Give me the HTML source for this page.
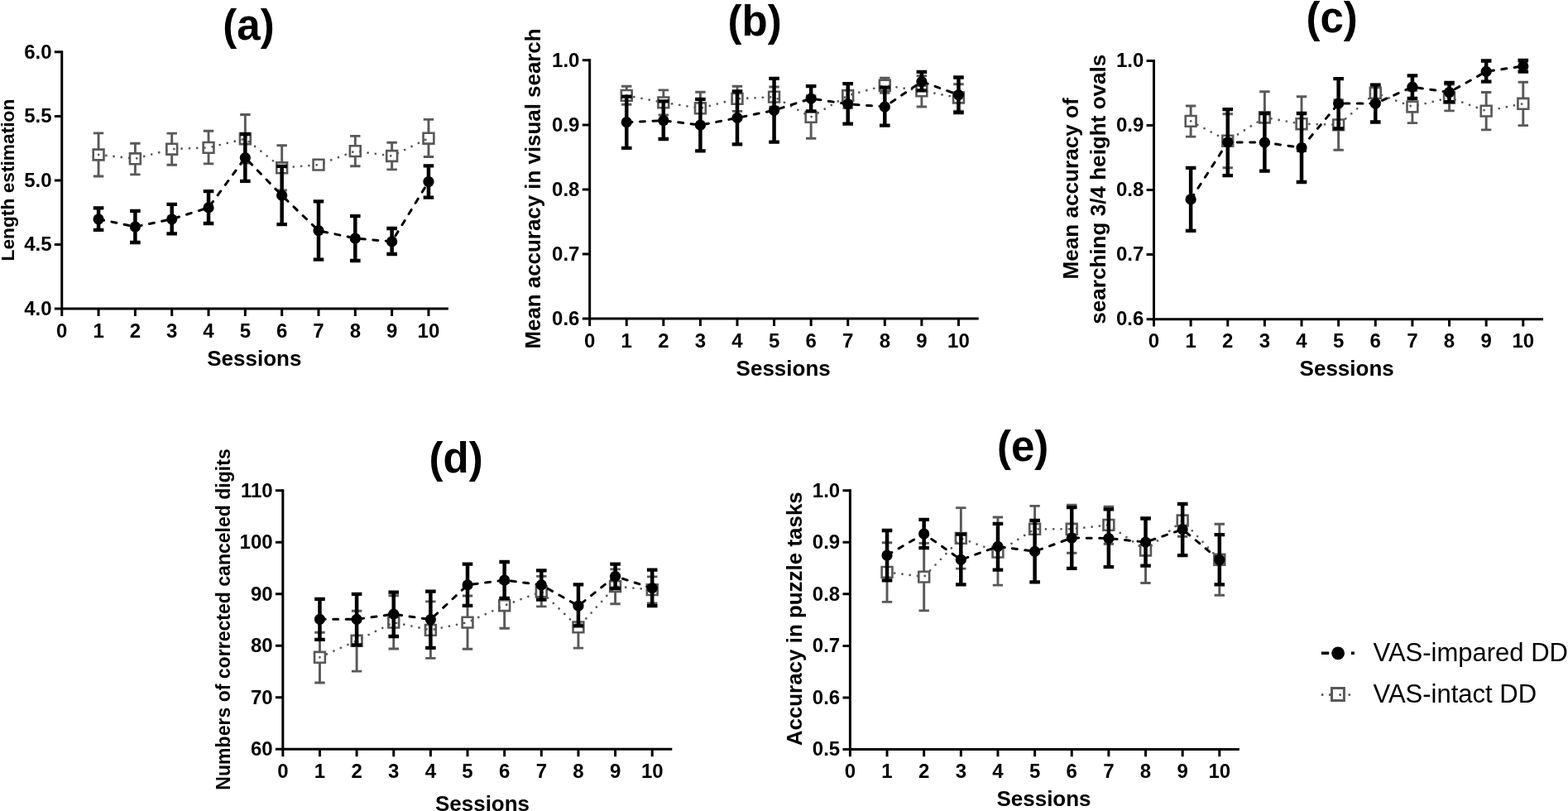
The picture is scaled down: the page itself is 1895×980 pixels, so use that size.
<!DOCTYPE html>
<html><head><meta charset="utf-8"><title>Figure</title>
<style>
html,body{margin:0;padding:0;background:#fff;}
body{width:1895px;height:980px;overflow:hidden;}
svg{display:block;filter:blur(0.35px);}
text{font-family:'Liberation Sans', sans-serif;fill:#000;}
.tk{font-size:24px;font-weight:bold;}
.ti{font-size:51px;font-weight:bold;}
.xl{font-size:26px;font-weight:bold;}
.yl{}
.lg{font-size:31px;font-weight:normal;}
</style></head>
<body>
<svg width="1895" height="980" viewBox="0 0 1895 980">
<rect width="1895" height="980" fill="#fff"/>
<g>
<path d="M74.75 62.8V373.12H540.4" fill="none" stroke="#000" stroke-width="3" stroke-linejoin="miter" stroke-linecap="square"/>
<path d="M65.85 373.12H74.75M65.85 295.54H74.75M65.85 217.96H74.75M65.85 140.38H74.75M65.85 62.8H74.75M74.75 373.12V382.02M119.07 373.12V382.02M163.39 373.12V382.02M207.71 373.12V382.02M252.03 373.12V382.02M296.35 373.12V382.02M340.67 373.12V382.02M384.99 373.12V382.02M429.31 373.12V382.02M473.63 373.12V382.02M517.95 373.12V382.02" stroke="#000" stroke-width="3" fill="none"/>
<text class="tk" x="62.55" y="380.92" text-anchor="end">4.0</text>
<text class="tk" x="62.55" y="303.34" text-anchor="end">4.5</text>
<text class="tk" x="62.55" y="225.76" text-anchor="end">5.0</text>
<text class="tk" x="62.55" y="148.18" text-anchor="end">5.5</text>
<text class="tk" x="62.55" y="70.6" text-anchor="end">6.0</text>
<text class="tk" x="74.75" y="407.72" text-anchor="middle">0</text>
<text class="tk" x="119.07" y="407.72" text-anchor="middle">1</text>
<text class="tk" x="163.39" y="407.72" text-anchor="middle">2</text>
<text class="tk" x="207.71" y="407.72" text-anchor="middle">3</text>
<text class="tk" x="252.03" y="407.72" text-anchor="middle">4</text>
<text class="tk" x="296.35" y="407.72" text-anchor="middle">5</text>
<text class="tk" x="340.67" y="407.72" text-anchor="middle">6</text>
<text class="tk" x="384.99" y="407.72" text-anchor="middle">7</text>
<text class="tk" x="429.31" y="407.72" text-anchor="middle">8</text>
<text class="tk" x="473.63" y="407.72" text-anchor="middle">9</text>
<text class="tk" x="517.95" y="407.72" text-anchor="middle">10</text>
<text class="ti" x="300.5" y="47.9" text-anchor="middle">(a)</text>
<text class="xl" x="307.3" y="441.8" text-anchor="middle">Sessions</text>
<text class="yl" transform="translate(16.6 217.55) rotate(-90)" text-anchor="middle" font-size="22.75" font-weight="bold">Length estimation</text>
<path d="M119.07 187L163.39 191.8L207.71 180.2L252.03 178.4L296.35 167.7L340.67 202.8L384.99 199.1L429.31 182.6L473.63 188.5L517.95 167.2" stroke="#585858" stroke-width="2.8" stroke-dasharray="0 9.3" stroke-linecap="round" stroke-linejoin="round" fill="none"/>
<path d="M119.07 180V160.9M112.87 160.9H125.27M119.07 194V213M112.87 213H125.27M163.39 184.8V173.2M157.19 173.2H169.59M163.39 198.8V210.9M157.19 210.9H169.59M207.71 173.2V161.1M201.51 161.1H213.91M207.71 187.2V199.2M201.51 199.2H213.91M252.03 171.4V158.2M245.83 158.2H258.23M252.03 185.4V197.9M245.83 197.9H258.23M296.35 160.7V138.5M290.15 138.5H302.55M296.35 174.7V197M290.15 197H302.55M340.67 195.8V175.7M334.47 175.7H346.87M340.67 209.8V229.9M334.47 229.9H346.87M429.31 175.6V164.4M423.11 164.4H435.51M429.31 189.6V200.8M423.11 200.8H435.51M473.63 181.5V172.3M467.43 172.3H479.83M473.63 195.5V204.9M467.43 204.9H479.83M517.95 160.2V144.4M511.75 144.4H524.15M517.95 174.2V189.5M511.75 189.5H524.15" stroke="#585858" stroke-width="2.9" fill="none"/>
<path d="M112.67 180.6h12.8v12.8h-12.8zM156.99 185.4h12.8v12.8h-12.8zM201.31 173.8h12.8v12.8h-12.8zM245.63 172h12.8v12.8h-12.8zM289.95 161.3h12.8v12.8h-12.8zM334.27 196.4h12.8v12.8h-12.8zM378.59 192.7h12.8v12.8h-12.8zM422.91 176.2h12.8v12.8h-12.8zM467.23 182.1h12.8v12.8h-12.8zM511.55 160.8h12.8v12.8h-12.8z" stroke="#585858" stroke-width="2.6" fill="none"/>
<path d="M119.07 264.8L163.39 274L207.71 264.8L252.03 250.9L296.35 190.6L340.67 236.2L384.99 278.7L429.31 288L473.63 291.9L517.95 219.5" stroke="#000" stroke-width="3" stroke-dasharray="6.00 9.50" stroke-dashoffset="14.79" stroke-linecap="round" stroke-linejoin="round" fill="none"/>
<path d="M119.07 251.3V277.8M163.39 254.9V293M207.71 246.8V282.3M252.03 231.1V270M296.35 162V218.8M340.67 200.9V271.2M384.99 243.4V313.7M429.31 261.2V315M473.63 276V307M517.95 200.4V238.6" stroke="#000" stroke-width="4.5" fill="none"/>
<path d="M112.77 251.3H125.37M112.77 277.8H125.37M157.09 254.9H169.69M157.09 293H169.69M201.41 246.8H214.01M201.41 282.3H214.01M245.73 231.1H258.33M245.73 270H258.33M290.05 162H302.65M290.05 218.8H302.65M334.37 200.9H346.97M334.37 271.2H346.97M378.69 243.4H391.29M378.69 313.7H391.29M423.01 261.2H435.61M423.01 315H435.61M467.33 276H479.93M467.33 307H479.93M511.65 200.4H524.25M511.65 238.6H524.25" stroke="#000" stroke-width="4.3" fill="none"/>
<circle cx="119.07" cy="264.8" r="6.6"/>
<circle cx="163.39" cy="274" r="6.6"/>
<circle cx="207.71" cy="264.8" r="6.6"/>
<circle cx="252.03" cy="250.9" r="6.6"/>
<circle cx="296.35" cy="190.6" r="6.6"/>
<circle cx="340.67" cy="236.2" r="6.6"/>
<circle cx="384.99" cy="278.7" r="6.6"/>
<circle cx="429.31" cy="288" r="6.6"/>
<circle cx="473.63" cy="291.9" r="6.6"/>
<circle cx="517.95" cy="219.5" r="6.6"/>
</g>
<g>
<path d="M712.67 72.81V385.12H1181.2" fill="none" stroke="#000" stroke-width="3" stroke-linejoin="miter" stroke-linecap="square"/>
<path d="M703.77 385.12H712.67M703.77 307.04H712.67M703.77 228.97H712.67M703.77 150.89H712.67M703.77 72.81H712.67M712.67 385.12V394.02M757.25 385.12V394.02M801.83 385.12V394.02M846.41 385.12V394.02M890.99 385.12V394.02M935.57 385.12V394.02M980.15 385.12V394.02M1024.73 385.12V394.02M1069.31 385.12V394.02M1113.89 385.12V394.02M1158.47 385.12V394.02" stroke="#000" stroke-width="3" fill="none"/>
<text class="tk" x="700.47" y="392.92" text-anchor="end">0.6</text>
<text class="tk" x="700.47" y="314.84" text-anchor="end">0.7</text>
<text class="tk" x="700.47" y="236.77" text-anchor="end">0.8</text>
<text class="tk" x="700.47" y="158.69" text-anchor="end">0.9</text>
<text class="tk" x="700.47" y="80.61" text-anchor="end">1.0</text>
<text class="tk" x="712.67" y="419.72" text-anchor="middle">0</text>
<text class="tk" x="757.25" y="419.72" text-anchor="middle">1</text>
<text class="tk" x="801.83" y="419.72" text-anchor="middle">2</text>
<text class="tk" x="846.41" y="419.72" text-anchor="middle">3</text>
<text class="tk" x="890.99" y="419.72" text-anchor="middle">4</text>
<text class="tk" x="935.57" y="419.72" text-anchor="middle">5</text>
<text class="tk" x="980.15" y="419.72" text-anchor="middle">6</text>
<text class="tk" x="1024.73" y="419.72" text-anchor="middle">7</text>
<text class="tk" x="1069.31" y="419.72" text-anchor="middle">8</text>
<text class="tk" x="1113.89" y="419.72" text-anchor="middle">9</text>
<text class="tk" x="1158.47" y="419.72" text-anchor="middle">10</text>
<text class="ti" x="912.1" y="43.4" text-anchor="middle">(b)</text>
<text class="xl" x="946.7" y="454" text-anchor="middle">Sessions</text>
<text class="yl" transform="translate(653.1 228) rotate(-90)" text-anchor="middle" font-size="25.9" font-weight="bold">Mean accuracy in visual search</text>
<path d="M757.25 115.4L801.83 123.9L846.41 130.8L890.99 119.4L935.57 117.1L980.15 141.4L1024.73 115.5L1069.31 103.2L1113.89 109.9L1158.47 118" stroke="#585858" stroke-width="2.8" stroke-dasharray="0 9.3" stroke-linecap="round" stroke-linejoin="round" fill="none"/>
<path d="M757.25 108.4V104.3M751.05 104.3H763.45M757.25 122.4V126.2M751.05 126.2H763.45M801.83 116.9V108.9M795.63 108.9H808.03M801.83 130.9V139M795.63 139H808.03M846.41 123.8V111.2M840.21 111.2H852.61M846.41 137.8V150.4M840.21 150.4H852.61M890.99 112.4V104.2M884.79 104.2H897.19M890.99 126.4V134.4M884.79 134.4H897.19M935.57 110.1V105M929.37 105H941.77M935.57 124.1V129.2M929.37 129.2H941.77M980.15 134.4V115.6M973.95 115.6H986.35M980.15 148.4V167.2M973.95 167.2H986.35M1024.73 108.5V100.5M1018.53 100.5H1030.93M1024.73 122.5V130.5M1018.53 130.5H1030.93M1069.31 96.2V94.2M1063.11 94.2H1075.51M1069.31 110.2V112.3M1063.11 112.3H1075.51M1113.89 102.9V91.6M1107.69 91.6H1120.09M1113.89 116.9V129M1107.69 129H1120.09M1158.47 111V101.8M1152.27 101.8H1164.67M1158.47 125V134.2M1152.27 134.2H1164.67" stroke="#585858" stroke-width="2.9" fill="none"/>
<path d="M750.85 109h12.8v12.8h-12.8zM795.43 117.5h12.8v12.8h-12.8zM840.01 124.4h12.8v12.8h-12.8zM884.59 113h12.8v12.8h-12.8zM929.17 110.7h12.8v12.8h-12.8zM973.75 135h12.8v12.8h-12.8zM1018.33 109.1h12.8v12.8h-12.8zM1062.91 96.8h12.8v12.8h-12.8zM1107.49 103.5h12.8v12.8h-12.8zM1152.07 111.6h12.8v12.8h-12.8z" stroke="#585858" stroke-width="2.6" fill="none"/>
<path d="M757.25 147.7L801.83 145.6L846.41 151.2L890.99 142.4L935.57 133.3L980.15 119.1L1024.73 125.7L1069.31 129L1113.89 98.6L1158.47 114.6" stroke="#000" stroke-width="3" stroke-dasharray="6.00 9.50" stroke-dashoffset="14.79" stroke-linecap="round" stroke-linejoin="round" fill="none"/>
<path d="M757.25 116.7V178.8M801.83 122.4V168M846.41 119.9V182.3M890.99 110.3V174.4M935.57 94.8V171.6M980.15 104.2V134.4M1024.73 101.1V149.6M1069.31 105.7V151.6M1113.89 86.8V109.3M1158.47 93.5V136.1" stroke="#000" stroke-width="4.5" fill="none"/>
<path d="M750.95 116.7H763.55M750.95 178.8H763.55M795.53 122.4H808.13M795.53 168H808.13M840.11 119.9H852.71M840.11 182.3H852.71M884.69 110.3H897.29M884.69 174.4H897.29M929.27 94.8H941.87M929.27 171.6H941.87M973.85 104.2H986.45M973.85 134.4H986.45M1018.43 101.1H1031.03M1018.43 149.6H1031.03M1063.01 105.7H1075.61M1063.01 151.6H1075.61M1107.59 86.8H1120.19M1107.59 109.3H1120.19M1152.17 93.5H1164.77M1152.17 136.1H1164.77" stroke="#000" stroke-width="4.3" fill="none"/>
<circle cx="757.25" cy="147.7" r="6.6"/>
<circle cx="801.83" cy="145.6" r="6.6"/>
<circle cx="846.41" cy="151.2" r="6.6"/>
<circle cx="890.99" cy="142.4" r="6.6"/>
<circle cx="935.57" cy="133.3" r="6.6"/>
<circle cx="980.15" cy="119.1" r="6.6"/>
<circle cx="1024.73" cy="125.7" r="6.6"/>
<circle cx="1069.31" cy="129" r="6.6"/>
<circle cx="1113.89" cy="98.6" r="6.6"/>
<circle cx="1158.47" cy="114.6" r="6.6"/>
</g>
<g>
<path d="M1394.5 73.42V385.66H1863.5" fill="none" stroke="#000" stroke-width="3" stroke-linejoin="miter" stroke-linecap="square"/>
<path d="M1385.6 385.66H1394.5M1385.6 307.6H1394.5M1385.6 229.54H1394.5M1385.6 151.48H1394.5M1385.6 73.42H1394.5M1394.5 385.66V394.56M1439.13 385.66V394.56M1483.76 385.66V394.56M1528.39 385.66V394.56M1573.02 385.66V394.56M1617.65 385.66V394.56M1662.28 385.66V394.56M1706.91 385.66V394.56M1751.54 385.66V394.56M1796.17 385.66V394.56M1840.8 385.66V394.56" stroke="#000" stroke-width="3" fill="none"/>
<text class="tk" x="1382.3" y="393.46" text-anchor="end">0.6</text>
<text class="tk" x="1382.3" y="315.4" text-anchor="end">0.7</text>
<text class="tk" x="1382.3" y="237.34" text-anchor="end">0.8</text>
<text class="tk" x="1382.3" y="159.28" text-anchor="end">0.9</text>
<text class="tk" x="1382.3" y="81.22" text-anchor="end">1.0</text>
<text class="tk" x="1394.5" y="420.26" text-anchor="middle">0</text>
<text class="tk" x="1439.13" y="420.26" text-anchor="middle">1</text>
<text class="tk" x="1483.76" y="420.26" text-anchor="middle">2</text>
<text class="tk" x="1528.39" y="420.26" text-anchor="middle">3</text>
<text class="tk" x="1573.02" y="420.26" text-anchor="middle">4</text>
<text class="tk" x="1617.65" y="420.26" text-anchor="middle">5</text>
<text class="tk" x="1662.28" y="420.26" text-anchor="middle">6</text>
<text class="tk" x="1706.91" y="420.26" text-anchor="middle">7</text>
<text class="tk" x="1751.54" y="420.26" text-anchor="middle">8</text>
<text class="tk" x="1796.17" y="420.26" text-anchor="middle">9</text>
<text class="tk" x="1840.8" y="420.26" text-anchor="middle">10</text>
<text class="ti" x="1609.6" y="38.6" text-anchor="middle">(c)</text>
<text class="xl" x="1627.7" y="453.6" text-anchor="middle">Sessions</text>
<text class="yl" transform="translate(1303.4 227.9) rotate(-90)" text-anchor="middle" font-size="26.1" font-weight="bold">Mean accuracy of</text>
<text class="yl" transform="translate(1335.6 228.7) rotate(-90)" text-anchor="middle" font-size="26.08" font-weight="bold">searching 3/4 height ovals</text>
<path d="M1439.13 146.4L1483.76 170.2L1528.39 142L1573.02 149.7L1617.65 150.9L1662.28 112.3L1706.91 129L1751.54 118L1796.17 134.1L1840.8 125.3" stroke="#585858" stroke-width="2.8" stroke-dasharray="0 9.3" stroke-linecap="round" stroke-linejoin="round" fill="none"/>
<path d="M1439.13 139.4V128M1432.93 128H1445.33M1439.13 153.4V165.1M1432.93 165.1H1445.33M1483.76 163.2V137.7M1477.56 137.7H1489.96M1483.76 177.2V202.8M1477.56 202.8H1489.96M1528.39 135V110.8M1522.19 110.8H1534.59M1528.39 149V173.2M1522.19 173.2H1534.59M1573.02 142.7V116.8M1566.82 116.8H1579.22M1573.02 156.7V182.6M1566.82 182.6H1579.22M1617.65 143.9V120.6M1611.45 120.6H1623.85M1617.65 157.9V181.2M1611.45 181.2H1623.85M1662.28 105.3V102.3M1656.08 102.3H1668.48M1662.28 119.3V122.3M1656.08 122.3H1668.48M1706.91 122V109.4M1700.71 109.4H1713.11M1706.91 136V148.6M1700.71 148.6H1713.11M1751.54 111V102M1745.34 102H1757.74M1751.54 125V133.9M1745.34 133.9H1757.74M1796.17 127.1V111.5M1789.97 111.5H1802.37M1796.17 141.1V156.9M1789.97 156.9H1802.37M1840.8 118.3V99.2M1834.6 99.2H1847M1840.8 132.3V151.6M1834.6 151.6H1847" stroke="#585858" stroke-width="2.9" fill="none"/>
<path d="M1432.73 140h12.8v12.8h-12.8zM1477.36 163.8h12.8v12.8h-12.8zM1521.99 135.6h12.8v12.8h-12.8zM1566.62 143.3h12.8v12.8h-12.8zM1611.25 144.5h12.8v12.8h-12.8zM1655.88 105.9h12.8v12.8h-12.8zM1700.51 122.6h12.8v12.8h-12.8zM1745.14 111.6h12.8v12.8h-12.8zM1789.77 127.7h12.8v12.8h-12.8zM1834.4 118.9h12.8v12.8h-12.8z" stroke="#585858" stroke-width="2.6" fill="none"/>
<path d="M1439.13 240.9L1483.76 171.8L1528.39 172.2L1573.02 178.5L1617.65 125.1L1662.28 125.1L1706.91 105.1L1751.54 111.5L1796.17 86.4L1840.8 79.9" stroke="#000" stroke-width="3" stroke-dasharray="6.00 9.50" stroke-dashoffset="14.79" stroke-linecap="round" stroke-linejoin="round" fill="none"/>
<path d="M1439.13 202.8V278.8M1483.76 132.1V212.2M1528.39 137V206.6M1573.02 137V220M1617.65 95.2V155.4M1662.28 102.6V147.5M1706.91 91.3V118.9M1751.54 100V123.1M1796.17 73.5V98.7M1840.8 73V86.7" stroke="#000" stroke-width="4.5" fill="none"/>
<path d="M1432.83 202.8H1445.43M1432.83 278.8H1445.43M1477.46 132.1H1490.06M1477.46 212.2H1490.06M1522.09 137H1534.69M1522.09 206.6H1534.69M1566.72 137H1579.32M1566.72 220H1579.32M1611.35 95.2H1623.95M1611.35 155.4H1623.95M1655.98 102.6H1668.58M1655.98 147.5H1668.58M1700.61 91.3H1713.21M1700.61 118.9H1713.21M1745.24 100H1757.84M1745.24 123.1H1757.84M1789.87 73.5H1802.47M1789.87 98.7H1802.47M1834.5 73H1847.1M1834.5 86.7H1847.1" stroke="#000" stroke-width="4.3" fill="none"/>
<circle cx="1439.13" cy="240.9" r="6.6"/>
<circle cx="1483.76" cy="171.8" r="6.6"/>
<circle cx="1528.39" cy="172.2" r="6.6"/>
<circle cx="1573.02" cy="178.5" r="6.6"/>
<circle cx="1617.65" cy="125.1" r="6.6"/>
<circle cx="1662.28" cy="125.1" r="6.6"/>
<circle cx="1706.91" cy="105.1" r="6.6"/>
<circle cx="1751.54" cy="111.5" r="6.6"/>
<circle cx="1796.17" cy="86.4" r="6.6"/>
<circle cx="1840.8" cy="79.9" r="6.6"/>
</g>
<g>
<path d="M341.83 592.81V905.27H810.8" fill="none" stroke="#000" stroke-width="3" stroke-linejoin="miter" stroke-linecap="square"/>
<path d="M332.93 905.27H341.83M332.93 842.78H341.83M332.93 780.29H341.83M332.93 717.79H341.83M332.93 655.3H341.83M332.93 592.81H341.83M341.83 905.27V914.17M386.47 905.27V914.17M431.11 905.27V914.17M475.75 905.27V914.17M520.39 905.27V914.17M565.03 905.27V914.17M609.67 905.27V914.17M654.31 905.27V914.17M698.95 905.27V914.17M743.59 905.27V914.17M788.23 905.27V914.17" stroke="#000" stroke-width="3" fill="none"/>
<text class="tk" x="329.63" y="913.07" text-anchor="end">60</text>
<text class="tk" x="329.63" y="850.58" text-anchor="end">70</text>
<text class="tk" x="329.63" y="788.09" text-anchor="end">80</text>
<text class="tk" x="329.63" y="725.59" text-anchor="end">90</text>
<text class="tk" x="329.63" y="663.1" text-anchor="end">100</text>
<text class="tk" x="329.63" y="600.61" text-anchor="end">110</text>
<text class="tk" x="341.83" y="939.87" text-anchor="middle">0</text>
<text class="tk" x="386.47" y="939.87" text-anchor="middle">1</text>
<text class="tk" x="431.11" y="939.87" text-anchor="middle">2</text>
<text class="tk" x="475.75" y="939.87" text-anchor="middle">3</text>
<text class="tk" x="520.39" y="939.87" text-anchor="middle">4</text>
<text class="tk" x="565.03" y="939.87" text-anchor="middle">5</text>
<text class="tk" x="609.67" y="939.87" text-anchor="middle">6</text>
<text class="tk" x="654.31" y="939.87" text-anchor="middle">7</text>
<text class="tk" x="698.95" y="939.87" text-anchor="middle">8</text>
<text class="tk" x="743.59" y="939.87" text-anchor="middle">9</text>
<text class="tk" x="788.23" y="939.87" text-anchor="middle">10</text>
<text class="ti" x="551.1" y="571.3" text-anchor="middle">(d)</text>
<text class="xl" x="583" y="979.5" text-anchor="middle">Sessions</text>
<text class="yl" transform="translate(277.7 748.45) rotate(-90)" text-anchor="middle" font-size="23.05" font-weight="bold">Numbers of corrected canceled digits</text>
<path d="M386.47 794.3L431.11 774.3L475.75 752.1L520.39 761.4L565.03 752.1L609.67 731.7L654.31 715L698.95 757.9L743.59 708.6L788.23 712.6" stroke="#585858" stroke-width="2.8" stroke-dasharray="0 9.3" stroke-linecap="round" stroke-linejoin="round" fill="none"/>
<path d="M386.47 787.3V764.3M380.27 764.3H392.67M386.47 801.3V825M380.27 825H392.67M431.11 767.3V738.3M424.91 738.3H437.31M431.11 781.3V811.1M424.91 811.1H437.31M475.75 745.1V719.7M469.55 719.7H481.95M475.75 759.1V784M469.55 784H481.95M520.39 754.4V726.9M514.19 726.9H526.59M520.39 768.4V795.4M514.19 795.4H526.59M565.03 745.1V720M558.83 720H571.23M565.03 759.1V784.3M558.83 784.3H571.23M609.67 724.7V704.1M603.47 704.1H615.87M609.67 738.7V759.3M603.47 759.3H615.87M654.31 708V696.4M648.11 696.4H660.51M654.31 722V732.9M648.11 732.9H660.51M698.95 750.9V732.7M692.75 732.7H705.15M698.95 764.9V783.1M692.75 783.1H705.15M743.59 701.6V687.9M737.39 687.9H749.79M743.59 715.6V729.7M737.39 729.7H749.79M788.23 705.6V696.9M782.03 696.9H794.43M788.23 719.6V728.9M782.03 728.9H794.43" stroke="#585858" stroke-width="2.9" fill="none"/>
<path d="M380.07 787.9h12.8v12.8h-12.8zM424.71 767.9h12.8v12.8h-12.8zM469.35 745.7h12.8v12.8h-12.8zM513.99 755h12.8v12.8h-12.8zM558.63 745.7h12.8v12.8h-12.8zM603.27 725.3h12.8v12.8h-12.8zM647.91 708.6h12.8v12.8h-12.8zM692.55 751.5h12.8v12.8h-12.8zM737.19 702.2h12.8v12.8h-12.8zM781.83 706.2h12.8v12.8h-12.8z" stroke="#585858" stroke-width="2.6" fill="none"/>
<path d="M386.47 748.3L431.11 748.3L475.75 742.1L520.39 748.6L565.03 706.9L609.67 701L654.31 706.9L698.95 732.1L743.59 696.4L788.23 710.7" stroke="#000" stroke-width="3" stroke-dasharray="6.00 9.50" stroke-dashoffset="14.79" stroke-linecap="round" stroke-linejoin="round" fill="none"/>
<path d="M386.47 723.9V772.9M431.11 717.9V779.3M475.75 715.7V769M520.39 714.7V782.9M565.03 681.7V731.9M609.67 679V722.9M654.31 689.3V724.6M698.95 706.4V756.4M743.59 681.7V711M788.23 688.6V732.1" stroke="#000" stroke-width="4.5" fill="none"/>
<path d="M380.17 723.9H392.77M380.17 772.9H392.77M424.81 717.9H437.41M424.81 779.3H437.41M469.45 715.7H482.05M469.45 769H482.05M514.09 714.7H526.69M514.09 782.9H526.69M558.73 681.7H571.33M558.73 731.9H571.33M603.37 679H615.97M603.37 722.9H615.97M648.01 689.3H660.61M648.01 724.6H660.61M692.65 706.4H705.25M692.65 756.4H705.25M737.29 681.7H749.89M737.29 711H749.89M781.93 688.6H794.53M781.93 732.1H794.53" stroke="#000" stroke-width="4.3" fill="none"/>
<circle cx="386.47" cy="748.3" r="6.6"/>
<circle cx="431.11" cy="748.3" r="6.6"/>
<circle cx="475.75" cy="742.1" r="6.6"/>
<circle cx="520.39" cy="748.6" r="6.6"/>
<circle cx="565.03" cy="706.9" r="6.6"/>
<circle cx="609.67" cy="701" r="6.6"/>
<circle cx="654.31" cy="706.9" r="6.6"/>
<circle cx="698.95" cy="732.1" r="6.6"/>
<circle cx="743.59" cy="696.4" r="6.6"/>
<circle cx="788.23" cy="710.7" r="6.6"/>
</g>
<g>
<path d="M1027.4 592.81V905.43H1496.3" fill="none" stroke="#000" stroke-width="3" stroke-linejoin="miter" stroke-linecap="square"/>
<path d="M1018.5 905.43H1027.4M1018.5 842.91H1027.4M1018.5 780.38H1027.4M1018.5 717.86H1027.4M1018.5 655.33H1027.4M1018.5 592.81H1027.4M1027.4 905.43V914.33M1072.04 905.43V914.33M1116.68 905.43V914.33M1161.32 905.43V914.33M1205.96 905.43V914.33M1250.6 905.43V914.33M1295.24 905.43V914.33M1339.88 905.43V914.33M1384.52 905.43V914.33M1429.16 905.43V914.33M1473.8 905.43V914.33" stroke="#000" stroke-width="3" fill="none"/>
<text class="tk" x="1015.2" y="913.23" text-anchor="end">0.5</text>
<text class="tk" x="1015.2" y="850.71" text-anchor="end">0.6</text>
<text class="tk" x="1015.2" y="788.18" text-anchor="end">0.7</text>
<text class="tk" x="1015.2" y="725.66" text-anchor="end">0.8</text>
<text class="tk" x="1015.2" y="663.13" text-anchor="end">0.9</text>
<text class="tk" x="1015.2" y="600.61" text-anchor="end">1.0</text>
<text class="tk" x="1027.4" y="940.03" text-anchor="middle">0</text>
<text class="tk" x="1072.04" y="940.03" text-anchor="middle">1</text>
<text class="tk" x="1116.68" y="940.03" text-anchor="middle">2</text>
<text class="tk" x="1161.32" y="940.03" text-anchor="middle">3</text>
<text class="tk" x="1205.96" y="940.03" text-anchor="middle">4</text>
<text class="tk" x="1250.6" y="940.03" text-anchor="middle">5</text>
<text class="tk" x="1295.24" y="940.03" text-anchor="middle">6</text>
<text class="tk" x="1339.88" y="940.03" text-anchor="middle">7</text>
<text class="tk" x="1384.52" y="940.03" text-anchor="middle">8</text>
<text class="tk" x="1429.16" y="940.03" text-anchor="middle">9</text>
<text class="tk" x="1473.8" y="940.03" text-anchor="middle">10</text>
<text class="ti" x="1236.2" y="556.6" text-anchor="middle">(e)</text>
<text class="xl" x="1261.5" y="973.8" text-anchor="middle">Sessions</text>
<text class="yl" transform="translate(969 747.8) rotate(-90)" text-anchor="middle" font-size="25.95" font-weight="bold">Accuracy in puzzle tasks</text>
<path d="M1072.04 691.4L1116.68 697.1L1161.32 650.4L1205.96 667.1L1250.6 639.3L1295.24 639.3L1339.88 634.4L1384.52 665L1429.16 629L1473.8 676.3" stroke="#585858" stroke-width="2.8" stroke-dasharray="0 9.3" stroke-linecap="round" stroke-linejoin="round" fill="none"/>
<path d="M1072.04 684.4V655.7M1065.84 655.7H1078.24M1072.04 698.4V727.4M1065.84 727.4H1078.24M1116.68 690.1V656.4M1110.48 656.4H1122.88M1116.68 704.1V737.9M1110.48 737.9H1122.88M1161.32 643.4V613.6M1155.12 613.6H1167.52M1161.32 657.4V687.1M1155.12 687.1H1167.52M1205.96 660.1V625M1199.76 625H1212.16M1205.96 674.1V707.1M1199.76 707.1H1212.16M1250.6 632.3V611.4M1244.4 611.4H1256.8M1250.6 646.3V667.2M1244.4 667.2H1256.8M1295.24 632.3V610.3M1289.04 610.3H1301.44M1295.24 646.3V668.3M1289.04 668.3H1301.44M1339.88 627.4V612.2M1333.68 612.2H1346.08M1339.88 641.4V657.3M1333.68 657.3H1346.08M1384.52 658V625.5M1378.32 625.5H1390.72M1384.52 672V704.5M1378.32 704.5H1390.72M1429.16 622V609.8M1422.96 609.8H1435.36M1429.16 636V648.2M1422.96 648.2H1435.36M1473.8 669.3V633.2M1467.6 633.2H1480M1473.8 683.3V719.3M1467.6 719.3H1480" stroke="#585858" stroke-width="2.9" fill="none"/>
<path d="M1065.64 685h12.8v12.8h-12.8zM1110.28 690.7h12.8v12.8h-12.8zM1154.92 644h12.8v12.8h-12.8zM1199.56 660.7h12.8v12.8h-12.8zM1244.2 632.9h12.8v12.8h-12.8zM1288.84 632.9h12.8v12.8h-12.8zM1333.48 628h12.8v12.8h-12.8zM1378.12 658.6h12.8v12.8h-12.8zM1422.76 622.6h12.8v12.8h-12.8zM1467.4 669.9h12.8v12.8h-12.8z" stroke="#585858" stroke-width="2.6" fill="none"/>
<path d="M1072.04 671L1116.68 645L1161.32 676.4L1205.96 660.4L1250.6 666.4L1295.24 650L1339.88 650.5L1384.52 655.1L1429.16 639.7L1473.8 676.5" stroke="#000" stroke-width="3" stroke-dasharray="6.00 9.50" stroke-dashoffset="14.79" stroke-linecap="round" stroke-linejoin="round" fill="none"/>
<path d="M1072.04 641V701.4M1116.68 627.9V662.1M1161.32 645.7V706.4M1205.96 632.9V688.6M1250.6 628.9V703.3M1295.24 613.1V686.9M1339.88 615.3V685.2M1384.52 626.7V683.7M1429.16 608.8V671.1M1473.8 646.2V706.3" stroke="#000" stroke-width="4.5" fill="none"/>
<path d="M1065.74 641H1078.34M1065.74 701.4H1078.34M1110.38 627.9H1122.98M1110.38 662.1H1122.98M1155.02 645.7H1167.62M1155.02 706.4H1167.62M1199.66 632.9H1212.26M1199.66 688.6H1212.26M1244.3 628.9H1256.9M1244.3 703.3H1256.9M1288.94 613.1H1301.54M1288.94 686.9H1301.54M1333.58 615.3H1346.18M1333.58 685.2H1346.18M1378.22 626.7H1390.82M1378.22 683.7H1390.82M1422.86 608.8H1435.46M1422.86 671.1H1435.46M1467.5 646.2H1480.1M1467.5 706.3H1480.1" stroke="#000" stroke-width="4.3" fill="none"/>
<circle cx="1072.04" cy="671" r="6.6"/>
<circle cx="1116.68" cy="645" r="6.6"/>
<circle cx="1161.32" cy="676.4" r="6.6"/>
<circle cx="1205.96" cy="660.4" r="6.6"/>
<circle cx="1250.6" cy="666.4" r="6.6"/>
<circle cx="1295.24" cy="650" r="6.6"/>
<circle cx="1339.88" cy="650.5" r="6.6"/>
<circle cx="1384.52" cy="655.1" r="6.6"/>
<circle cx="1429.16" cy="639.7" r="6.6"/>
<circle cx="1473.8" cy="676.5" r="6.6"/>
</g>
<g>
<path d="M1596.9 789.3H1606.1M1632.9 789.3H1636.9" stroke="#000" stroke-width="3.6" fill="none"/>
<circle cx="1617.1" cy="789.3" r="7.9"/>
<path d="M1598.1 839.5h0.01M1607.2 839.5h0.01M1619.6 839.5h0.01M1630.8 839.5h0.01" stroke="#585858" stroke-width="3" stroke-linecap="round" fill="none"/>
<path d="M1609.5 831.6h14.9v14.9h-14.9z" stroke="#585858" stroke-width="3" fill="none"/>
<text class="lg" x="1659.5" y="799.1">VAS-impared DD</text>
<text class="lg" x="1659.5" y="848.9">VAS-intact DD</text>
</g>
</svg>
</body></html>
